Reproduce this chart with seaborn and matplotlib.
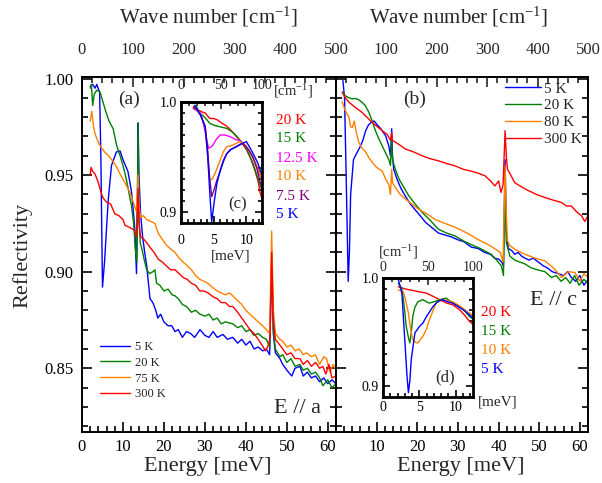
import matplotlib
matplotlib.use("Agg")
import matplotlib.pyplot as plt
from matplotlib.ticker import MultipleLocator, FixedLocator, FixedFormatter, FormatStrFormatter
import seaborn as sns

# ---------------- data ----------------
# panel (a)  E // a   (energy in meV, reflectivity)
temps_a = ["5 K", "20 K", "75 K", "300 K"]
a5_x = [2.0, 2.6, 3.2, 3.6, 4.3, 4.6, 5.0, 5.5, 6.4, 7.2, 8.4, 9.3, 10.0, 10.6, 11.2, 11.8, 12.1, 12.5, 12.9, 13.3,
        13.5, 13.7, 13.9, 14.3, 14.8, 15.3, 15.8, 16.6, 17.3, 18.0, 18.5, 19.2, 20.0, 21.0, 21.9, 22.7, 23.5, 24.5,
        25.5, 26.5, 27.5, 28.8, 30.0, 31.0, 32.0, 33.0, 34.4, 35.5, 36.8, 38.0, 39.0, 40.0, 41.0, 42.0, 43.0, 44.1,
        45.0, 45.8, 46.3, 46.7, 47.2, 48.3, 49.0, 50.0, 51.2, 52.0, 53.2, 54.0, 55.0, 56.0, 57.0, 58.0, 59.0, 60.0,
        61.0, 62.0]
a5_y = [0.996, 0.997, 0.995, 0.997, 0.993, 0.960, 0.892, 0.905, 0.937, 0.955, 0.962, 0.9625, 0.958, 0.955, 0.952,
        0.945, 0.941, 0.932, 0.922, 0.899, 0.930, 0.977, 0.950, 0.930, 0.918, 0.910, 0.903, 0.886, 0.884, 0.880,
        0.876, 0.878, 0.874, 0.872, 0.872, 0.869, 0.870, 0.866, 0.869, 0.868, 0.866, 0.870, 0.867, 0.866, 0.869,
        0.866, 0.8675, 0.865, 0.866, 0.863, 0.865, 0.862, 0.864, 0.860, 0.861, 0.859, 0.860, 0.857, 0.905, 0.868,
        0.858, 0.855, 0.852, 0.849, 0.846, 0.850, 0.851, 0.846, 0.848, 0.845, 0.846, 0.843, 0.845, 0.842, 0.844,
        0.842]
a20_x = [2.0, 2.3, 2.6, 3.0, 3.6, 4.4, 5.1, 5.8, 6.6, 7.6, 8.5, 9.3, 10.0, 10.6, 11.2, 11.7, 12.1, 12.6, 13.0, 13.4,
         13.7, 13.9, 14.2, 14.6, 15.2, 15.8, 16.5, 17.3, 17.8, 18.2, 19.0, 20.0, 21.0, 22.0, 22.7, 23.5, 24.5, 25.5,
         26.7, 27.7, 28.8, 30.0, 31.0, 32.0, 33.0, 34.0, 35.0, 36.8, 38.0, 39.0, 40.0, 41.0, 42.0, 43.0, 44.1, 45.0,
         45.8, 46.3, 46.7, 47.2, 48.3, 49.0, 50.0, 51.0, 52.0, 53.2, 54.0, 55.0, 56.0, 57.0, 58.0, 58.8, 60.0, 61.0,
         62.0]
a20_y = [0.995, 0.997, 0.986, 0.992, 0.994, 0.993, 0.988, 0.983, 0.978, 0.974, 0.965, 0.960, 0.955, 0.950, 0.944,
         0.938, 0.934, 0.925, 0.912, 0.905, 0.977, 0.930, 0.915, 0.912, 0.906, 0.901, 0.899, 0.900, 0.901, 0.894,
         0.893, 0.890, 0.891, 0.888, 0.8875, 0.886, 0.883, 0.882, 0.879, 0.880, 0.878, 0.877, 0.878, 0.875, 0.876,
         0.873, 0.874, 0.873, 0.871, 0.872, 0.869, 0.870, 0.867, 0.868, 0.866, 0.865, 0.861, 0.910, 0.870, 0.860,
         0.856, 0.857, 0.853, 0.855, 0.851, 0.852, 0.849, 0.850, 0.847, 0.848, 0.845, 0.841, 0.844, 0.840, 0.842]
a75_x = [2.0, 2.4, 2.7, 3.1, 3.6, 4.2, 4.8, 5.5, 6.5, 7.6, 8.5, 9.3, 10.5, 11.7, 12.5, 13.3, 13.7, 13.9, 14.3, 15.0,
         15.8, 16.8, 17.8, 18.6, 19.5, 20.5, 21.5, 22.7, 23.7, 24.7, 25.7, 26.7, 27.7, 28.8, 29.8, 30.7, 31.8, 33.0,
         34.0, 35.0, 36.0, 36.8, 38.0, 39.0, 40.0, 41.0, 42.0, 43.0, 44.1, 45.0, 45.8, 46.3, 46.7, 47.2, 48.3, 49.0,
         50.0, 51.0, 52.0, 53.0, 54.0, 54.8, 56.0, 57.0, 58.0, 59.0, 59.7, 60.5, 61.3, 62.0]
a75_y = [0.978, 0.983, 0.977, 0.972, 0.969, 0.966, 0.964, 0.962, 0.960, 0.957, 0.954, 0.9505, 0.946, 0.941, 0.936,
         0.931, 0.950, 0.935, 0.928, 0.929, 0.927, 0.926, 0.925, 0.920, 0.917, 0.914, 0.912, 0.910, 0.907, 0.905,
         0.903, 0.901, 0.898, 0.896, 0.895, 0.894, 0.892, 0.890, 0.889, 0.888, 0.889, 0.8875, 0.885, 0.883, 0.880,
         0.878, 0.876, 0.874, 0.872, 0.870, 0.868, 0.921, 0.880, 0.868, 0.865, 0.864, 0.861, 0.862, 0.859, 0.860,
         0.857, 0.858, 0.856, 0.857, 0.852, 0.856, 0.855, 0.848, 0.852, 0.849]
a300_x = [2.0, 2.2, 2.6, 3.2, 4.0, 4.8, 5.2, 6.0, 7.0, 8.0, 9.0, 10.0, 10.5, 11.5, 12.4, 12.9, 13.3, 13.7, 13.9,
          14.3, 15.0, 15.8, 16.8, 17.6, 18.6, 19.6, 20.6, 21.6, 22.7, 23.7, 24.7, 25.7, 26.7, 27.7, 28.8, 29.8, 30.8,
          32.0, 33.0, 34.0, 35.0, 36.0, 36.8, 38.0, 39.0, 40.0, 41.0, 42.0, 43.0, 44.1, 44.8, 45.5, 45.9, 46.3, 46.7,
          47.2, 48.3, 49.0, 50.0, 51.0, 52.0, 53.2, 54.0, 55.0, 56.0, 57.0, 58.0, 58.8, 59.5, 60.3, 61.0, 62.0]
a300_y = [0.950, 0.954, 0.952, 0.9505, 0.946, 0.940, 0.938, 0.936, 0.935, 0.930, 0.929, 0.927, 0.924, 0.923, 0.922,
          0.921, 0.918, 0.943, 0.925, 0.918, 0.917, 0.915, 0.912, 0.910, 0.9065, 0.905, 0.903, 0.901, 0.901, 0.899,
          0.897, 0.896, 0.894, 0.893, 0.890, 0.890, 0.889, 0.887, 0.886, 0.884, 0.884, 0.882, 0.882, 0.879, 0.876,
          0.873, 0.870, 0.868, 0.865, 0.8615, 0.859, 0.862, 0.866, 0.910, 0.875, 0.865, 0.862, 0.860, 0.857, 0.858,
          0.855, 0.855, 0.852, 0.854, 0.851, 0.853, 0.850, 0.851, 0.847, 0.852, 0.845, 0.846]

# panel (b)  E // c
temps_b = ["5 K", "20 K", "80 K", "300 K"]
b5_x = [1.7, 2.1, 2.5, 3.0, 3.3, 3.6, 4.3, 5.0, 5.9, 6.6, 7.3, 8.0, 8.8, 9.4, 10.0, 11.0, 12.2, 13.0, 13.4, 13.7,
        13.9, 14.2, 15.0, 16.0, 17.1, 18.3, 19.5, 20.7, 22.0, 23.5, 25.2, 26.8, 28.4, 30.0, 31.5, 33.3, 35.0, 36.5,
        38.0, 39.0, 40.0, 40.8, 41.2, 41.6, 41.9, 42.4, 43.2, 44.0, 44.8, 45.7, 46.5, 47.5, 48.5, 49.8, 51.0, 52.0,
        53.2, 54.7, 56.0, 57.0, 57.9, 59.0, 60.0, 61.0, 62.0]
b5_y = [0.999, 0.990, 0.950, 0.895, 0.910, 0.940, 0.958, 0.961, 0.9645, 0.968, 0.973, 0.976, 0.9776, 0.978, 0.9764,
        0.974, 0.9704, 0.965, 0.960, 0.974, 0.960, 0.953, 0.948, 0.943, 0.939, 0.935, 0.932, 0.929, 0.9256, 0.923,
        0.920, 0.919, 0.918, 0.9165, 0.9155, 0.9127, 0.912, 0.910, 0.909, 0.907, 0.9065, 0.905, 0.903, 0.958, 0.920,
        0.912, 0.911, 0.909, 0.910, 0.908, 0.907, 0.906, 0.907, 0.905, 0.903, 0.902, 0.900, 0.899, 0.898, 0.900,
        0.897, 0.895, 0.898, 0.893, 0.896]
b20_x = [1.7, 2.3, 3.2, 4.0, 4.8, 5.6, 6.4, 7.2, 8.1, 8.9, 9.7, 10.5, 11.4, 12.2, 13.0, 13.4, 13.7, 13.9, 14.6, 15.5,
         16.6, 17.9, 19.5, 21.2, 23.0, 25.2, 27.2, 29.3, 31.3, 33.3, 35.5, 38.2, 39.5, 40.7, 41.2, 41.6, 41.9, 42.8,
         44.0, 45.2, 46.5, 48.0, 49.5, 51.4, 53.0, 54.2, 55.4, 56.5, 57.6, 58.7, 59.8, 61.0, 62.0]
b20_y = [0.993, 0.991, 0.990, 0.9895, 0.9897, 0.989, 0.9877, 0.986, 0.9825, 0.978, 0.973, 0.969, 0.965, 0.9615,
         0.958, 0.955, 0.968, 0.958, 0.953, 0.948, 0.944, 0.9393, 0.935, 0.9307, 0.927, 0.922, 0.920, 0.9185, 0.916,
         0.914, 0.912, 0.909, 0.906, 0.903, 0.898, 0.950, 0.915, 0.908, 0.906, 0.905, 0.904, 0.902, 0.901, 0.900,
         0.897, 0.898, 0.895, 0.897, 0.894, 0.898, 0.893, 0.896, 0.894]
b80_x = [1.5, 2.0, 2.6, 3.2, 3.6, 4.0, 4.5, 5.0, 5.6, 6.4, 7.3, 8.1, 8.9, 10.0, 11.4, 12.2, 13.0, 13.4, 13.7, 13.9,
         14.6, 15.8, 17.1, 18.7, 20.3, 22.3, 24.4, 26.8, 29.3, 31.3, 33.4, 35.5, 37.5, 39.0, 40.4, 41.1, 41.6, 41.9,
         42.2, 42.8, 44.5, 46.5, 49.0, 51.4, 53.5, 55.5, 57.2, 58.8, 60.0, 61.0, 62.0]
b80_y = [0.988, 0.985, 0.982, 0.980, 0.975, 0.9747, 0.978, 0.972, 0.967, 0.964, 0.962, 0.959, 0.9566, 0.954, 0.952,
         0.948, 0.945, 0.940, 0.953, 0.946, 0.9436, 0.940, 0.9376, 0.935, 0.9324, 0.930, 0.927, 0.925, 0.923, 0.921,
         0.9186, 0.916, 0.914, 0.912, 0.910, 0.905, 0.955, 0.930, 0.916, 0.9134, 0.911, 0.909, 0.907, 0.9056, 0.902,
         0.897, 0.900, 0.8996, 0.895, 0.899, 0.897]
b300_x = [1.5, 2.3, 3.2, 4.8, 6.4, 7.6, 8.9, 10.2, 11.4, 12.6, 13.4, 13.7, 13.9, 15.4, 17.1, 19.1, 21.2, 23.2, 25.2,
          27.2, 29.3, 31.3, 33.4, 35.0, 36.7, 38.0, 39.1, 40.0, 40.6, 41.1, 41.6, 41.9, 42.2, 43.0, 44.0, 45.6, 47.3,
          49.3, 51.4, 53.5, 55.5, 56.7, 57.9, 59.2, 60.4, 61.2, 62.0]
b300_y = [0.993, 0.990, 0.9877, 0.985, 0.9825, 0.980, 0.9773, 0.975, 0.973, 0.971, 0.968, 0.972, 0.968, 0.966,
          0.9635, 0.962, 0.960, 0.9585, 0.9574, 0.956, 0.9548, 0.953, 0.952, 0.951, 0.9496, 0.947, 0.9444, 0.947,
          0.941, 0.945, 0.973, 0.960, 0.953, 0.950, 0.946, 0.944, 0.942, 0.940, 0.9384, 0.937, 0.9358, 0.934, 0.934,
          0.931, 0.929, 0.926, 0.929]

# inset (c)
temps_c = ["20 K", "15 K", "12.5 K", "10 K", "7.5 K", "5 K"]
c20_x = [1.9, 2.3, 2.7, 3.2, 3.7, 4.4, 5.0, 5.5, 6.2, 7.0, 7.7, 8.5, 9.3, 10.1, 10.7, 11.3, 11.8, 12.1, 12.4]
c20_y = [0.996, 0.994, 0.9925, 0.991, 0.990, 0.985, 0.985, 0.984, 0.981, 0.978, 0.974, 0.9685, 0.963, 0.956, 0.948,
         0.938, 0.928, 0.918, 0.912]
c15_x = [1.9, 2.3, 2.8, 3.3, 3.8, 4.4, 5.0, 5.6, 6.3, 7.0, 7.8, 8.5, 9.0, 9.7, 10.6, 11.1, 11.6, 12.1, 12.4]
c15_y = [0.994, 0.997, 0.990, 0.988, 0.985, 0.9806, 0.979, 0.978, 0.977, 0.976, 0.973, 0.969, 0.9655, 0.961, 0.950,
         0.943, 0.9336, 0.9245, 0.920]
c125_x = [1.9, 2.5, 3.0, 3.4, 3.8, 4.2, 4.6, 4.9, 5.4, 6.0, 6.7, 7.5, 8.0, 8.5, 9.0, 9.6, 10.2, 10.8, 11.4, 12.0, 12.4]
c125_y = [0.994, 0.992, 0.990, 0.981, 0.970, 0.958, 0.959, 0.961, 0.966, 0.970, 0.970, 0.9685, 0.967, 0.9655, 0.965,
          0.962, 0.958, 0.952, 0.944, 0.935, 0.930]
c10_x = [1.9, 2.4, 3.0, 3.7, 4.1, 4.4, 4.8, 5.2, 5.6, 6.0, 6.5, 7.0, 7.5, 8.0, 8.5, 9.0, 9.6, 10.2, 10.8, 11.4, 12.1,
         12.4]
c10_y = [0.995, 0.993, 0.988, 0.9776, 0.950, 0.929, 0.930, 0.935, 0.941, 0.947, 0.955, 0.9594, 0.960, 0.961, 0.9625,
         0.964, 0.962, 0.958, 0.952, 0.945, 0.935, 0.930]
c75_x = [1.9, 2.4, 3.0, 3.7, 4.1, 4.4, 4.7, 5.1, 5.5, 6.0, 6.5, 7.0, 7.5, 8.0, 8.6, 9.3, 9.9, 10.5, 11.0, 11.6, 12.1,
         12.4]
c75_y = [0.995, 0.993, 0.988, 0.9776, 0.955, 0.930, 0.914, 0.921, 0.929, 0.937, 0.946, 0.953, 0.9565, 0.958, 0.960,
         0.9624, 0.960, 0.955, 0.950, 0.940, 0.9275, 0.923]
c5_x = [2.1, 2.5, 3.0, 3.7, 4.1, 4.4, 4.7, 5.1, 5.5, 6.0, 6.5, 7.0, 7.7, 8.5, 9.3, 10.0, 10.6, 11.3, 11.8, 12.1, 12.4]
c5_y = [0.997, 0.993, 0.988, 0.9776, 0.950, 0.918, 0.891, 0.910, 0.926, 0.938, 0.947, 0.953, 0.957, 0.9594, 0.962,
        0.964, 0.958, 0.950, 0.944, 0.938, 0.934]

# inset (d)
temps_d = ["20 K", "15 K", "10 K", "5 K"]
d20_x = [2.1, 3.0, 3.7, 4.8, 6.0, 6.9, 7.8, 8.7, 9.6, 10.5, 11.2, 11.9, 12.4]
d20_y = [0.992, 0.990, 0.989, 0.9875, 0.986, 0.983, 0.980, 0.977, 0.9752, 0.971, 0.966, 0.960, 0.957]
d15_x = [2.1, 2.6, 2.9, 3.2, 3.5, 3.7, 3.9, 4.1, 4.4, 4.8, 5.5, 6.0, 6.4, 7.0, 7.8, 8.7, 9.6, 10.5, 11.2, 11.9, 12.4]
d15_y = [0.995, 0.9905, 0.975, 0.9553, 0.945, 0.940, 0.950, 0.9645, 0.973, 0.978, 0.980, 0.978, 0.9768, 0.978, 0.980,
         0.9814, 0.977, 0.9737, 0.970, 0.9645, 0.962]
d10_x = [2.1, 2.8, 3.1, 3.5, 3.8, 4.1, 4.5, 4.8, 5.5, 6.0, 6.4, 6.9, 7.3, 7.8, 8.2, 8.9, 9.6, 10.5, 11.2, 11.9, 12.4]
d10_y = [0.989, 0.9875, 0.980, 0.9676, 0.953, 0.943, 0.9405, 0.940, 0.946, 0.953, 0.9615, 0.970, 0.9768, 0.979,
         0.980, 0.979, 0.978, 0.9745, 0.971, 0.9676, 0.965]
d5_x = [2.1, 2.6, 3.0, 3.3, 3.5, 3.7, 3.9, 4.4, 5.0, 5.5, 6.0, 6.9, 7.5, 8.2, 8.9, 9.6, 10.5, 11.2, 11.9, 12.4]
d5_y = [0.999, 0.986, 0.943, 0.910, 0.894, 0.905, 0.925, 0.9493, 0.955, 0.9584, 0.9645, 0.9737, 0.978, 0.980, 0.978,
        0.9768, 0.973, 0.970, 0.966, 0.963]

BLUE, GREEN, ORANGE, RED = "#0000ff", "#008000", "#ff8000", "#ff0000"
MAGENTA, PURPLE = "#ff00ff", "#800080"
MEV2CM = 8.06554

# ---------------- style ----------------
sns.set_style("ticks")
plt.rcParams["font.family"] = ["Liberation Serif", "DejaVu Serif"]
plt.rcParams["mathtext.fontset"] = "custom"
plt.rcParams["mathtext.rm"] = "Liberation Serif"
plt.rcParams["mathtext.it"] = "Liberation Serif:italic"
plt.rcParams["axes.linewidth"] = 1.4

W, H = 602, 483
fig = plt.figure(figsize=(W / 100, H / 100), dpi=100)


def fa(l, t, r, b):
    return [l / W, 1 - b / H, (r - l) / W, (b - t) / H]


def draw(ax, x, y, color, lw=1.0):
    sns.lineplot(x=x, y=y, ax=ax, color=color, lw=lw, estimator=None, sort=False, legend=False)
    return ax.lines[-1]


axA = fig.add_axes(fa(82, 77, 336, 432))
axB = fig.add_axes(fa(336, 77, 588, 432))

hA = [draw(axA, a5_x, a5_y, BLUE), draw(axA, a20_x, a20_y, GREEN),
      draw(axA, a75_x, a75_y, ORANGE), draw(axA, a300_x, a300_y, RED)]
hB = [draw(axB, b5_x, b5_y, BLUE), draw(axB, b20_x, b20_y, GREEN),
      draw(axB, b80_x, b80_y, ORANGE), draw(axB, b300_x, b300_y, RED)]

for ax in (axA, axB):
    ax.set_xlim(0, 62)
    ax.set_ylim(0.817, 1.0008)
    ax.set_xlabel("")
    ax.set_ylabel("")
    ax.xaxis.set_major_locator(FixedLocator([0, 10, 20, 30, 40, 50, 60]))
    ax.xaxis.set_minor_locator(MultipleLocator(2))
    ax.yaxis.set_major_locator(MultipleLocator(0.05))
    ax.yaxis.set_minor_locator(MultipleLocator(0.01))
    ax.tick_params(which="both", direction="in", top=False, bottom=True, left=True, right=True,
                   width=1.2, labelsize=12, colors="black")
    ax.tick_params(which="major", length=7)
    ax.tick_params(which="minor", length=4)
    ax.tick_params(axis="x", pad=5)
    for s in ax.spines.values():
        s.set_linewidth(1.4)
        s.set_color("black")
    sec = ax.secondary_xaxis("top", functions=(lambda e: e * MEV2CM, lambda w: w / MEV2CM))
    sec.xaxis.set_major_locator(FixedLocator([0, 100, 200, 300, 400, 500]))
    sec.xaxis.set_minor_locator(MultipleLocator(20))
    sec.tick_params(which="both", direction="in", width=1.2, labelsize=12, pad=14)
    sec.tick_params(which="major", length=7)
    sec.tick_params(which="minor", length=4)
    sec.spines["top"].set_linewidth(1.4)
    if ax is axB:
        sec.xaxis.set_major_formatter(FixedFormatter(["", "100", "200", "300", "400", "500"]))

axA.yaxis.set_major_formatter(FormatStrFormatter("%.2f"))
axA.tick_params(axis="y", pad=6)
axB.tick_params(labelleft=False)
axB.xaxis.set_major_formatter(FixedFormatter(["", "10", "20", "30", "40", "50", "60"]))

# legends
axA.legend(handles=hA, labels=temps_a, loc="upper left", bbox_to_anchor=(100 / W, 1 - 341 / H),
           bbox_transform=fig.transFigure, frameon=False, fontsize=9, handlelength=2.4,
           handletextpad=0.4, labelspacing=0.3, borderpad=0, borderaxespad=0)
axB.legend(handles=hB, labels=temps_b, loc="upper left", bbox_to_anchor=(505 / W, 1 - 82 / H),
           bbox_transform=fig.transFigure, frameon=False, fontsize=11, handlelength=2.35,
           handletextpad=0.2, labelspacing=0.2, borderpad=0, borderaxespad=0)

# panel annotations
axA.text(0.185, 0.938, "(a)", transform=axA.transAxes, ha="center", va="center", fontsize=14)
axB.text(0.313, 0.938, "(b)", transform=axB.transAxes, ha="center", va="center", fontsize=14)
axA.text(0.85, 0.065, "E // a", transform=axA.transAxes, ha="center", va="center", fontsize=16)
axB.text(0.865, 0.37, "E // c", transform=axB.transAxes, ha="center", va="center", fontsize=16)

# axis titles
fig.text(22 / W, 1 - 255 / H, "Reflectivity", rotation=90, ha="center", va="center", fontsize=16)
fig.text(208 / W, 1 - 467 / H, "Energy [meV]", ha="center", va="center", fontsize=16)
fig.text(461 / W, 1 - 467 / H, "Energy [meV]", ha="center", va="center", fontsize=16)
fig.text(208 / W, 1 - 17 / H, r"Wave number [cm$^{\mathregular{-1}}$]", ha="center", va="center", fontsize=15)
fig.text(458 / W, 1 - 17 / H, r"Wave number [cm$^{\mathregular{-1}}$]", ha="center", va="center", fontsize=15)


# ---------------- insets ----------------
def style_inset(ax, padx_bottom, padx_top):
    ax.set_facecolor("white")
    ax.set_xlim(0, 12.4)
    ax.set_ylim(0.89, 1.0)
    ax.set_xlabel("")
    ax.set_ylabel("")
    ax.xaxis.set_major_locator(FixedLocator([0, 5, 10]))
    ax.xaxis.set_minor_locator(MultipleLocator(1))
    ax.yaxis.set_major_locator(FixedLocator([0.9, 1.0]))
    ax.yaxis.set_minor_locator(MultipleLocator(0.01))
    ax.yaxis.set_major_formatter(FormatStrFormatter("%.1f"))
    ax.tick_params(which="both", direction="in", top=False, bottom=True, left=True, right=True,
                   width=1.2, labelsize=10, colors="black")
    ax.tick_params(which="major", length=5)
    ax.tick_params(which="minor", length=3)
    ax.tick_params(axis="x", pad=padx_bottom)
    ax.tick_params(axis="y", pad=3)
    for s in ax.spines.values():
        s.set_linewidth(2.0)
        s.set_color("black")
    sec = ax.secondary_xaxis("top", functions=(lambda e: e * MEV2CM, lambda w: w / MEV2CM))
    sec.xaxis.set_major_locator(FixedLocator([0, 50, 100]))
    sec.xaxis.set_minor_locator(MultipleLocator(10))
    sec.tick_params(which="both", direction="in", width=1.2, labelsize=10, pad=padx_top)
    sec.tick_params(which="major", length=5)
    sec.tick_params(which="minor", length=3)
    sec.spines["top"].set_linewidth(2.0)


axC = fig.add_axes(fa(181, 102, 262, 223))
cols_c = [RED, GREEN, MAGENTA, ORANGE, PURPLE, BLUE]
for (x, y), col in zip([(c20_x, c20_y), (c15_x, c15_y), (c125_x, c125_y), (c10_x, c10_y),
                        (c75_x, c75_y), (c5_x, c5_y)], cols_c):
    draw(axC, x, y, col)
style_inset(axC, 8, 7)
axC.text(0.70, 0.155, "(c)", transform=axC.transAxes, ha="center", va="center", fontsize=12)
for i, (t, col) in enumerate(zip(temps_c, cols_c)):
    fig.text(276 / W, 1 - (120 + i * 19) / H, t, color=col, ha="left", va="center", fontsize=11)
fig.text(273 / W, 1 - 91 / H, r"[cm$^{\mathregular{-1}}$]", ha="left", va="center", fontsize=10.5)
fig.text(231 / W, 1 - 256 / H, "[meV]", ha="center", va="center", fontsize=11)

axD = fig.add_axes(fa(383, 278, 473, 397))
cols_d = [RED, GREEN, ORANGE, BLUE]
for (x, y), col in zip([(d20_x, d20_y), (d15_x, d15_y), (d10_x, d10_y), (d5_x, d5_y)], cols_d):
    draw(axD, x, y, col)
style_inset(axD, 3, 3)
axD.text(0.69, 0.168, "(d)", transform=axD.transAxes, ha="center", va="center", fontsize=12)
for i, (t, col) in enumerate(zip(temps_d, cols_d)):
    fig.text(481 / W, 1 - (312 + i * 19.3) / H, t, color=col, ha="left", va="center", fontsize=11)
fig.text(398 / W, 1 - 252 / H, r"[cm$^{\mathregular{-1}}$]", ha="center", va="center", fontsize=10.5)
fig.text(498 / W, 1 - 402 / H, "[meV]", ha="center", va="center", fontsize=11)

fig.savefig("out.png", dpi=100)
